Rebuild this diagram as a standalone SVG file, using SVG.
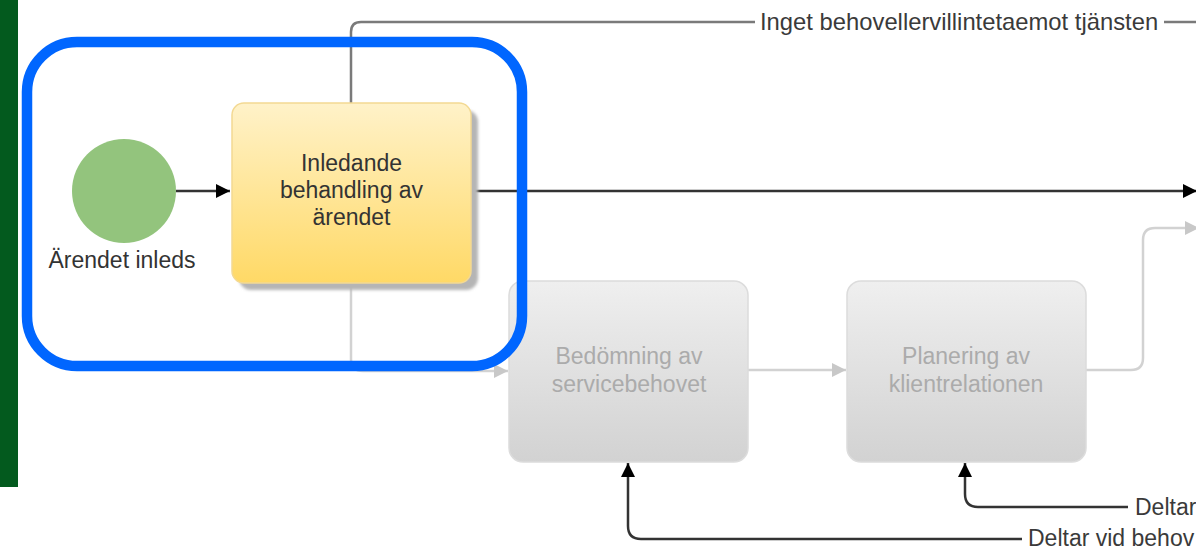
<svg xmlns="http://www.w3.org/2000/svg" width="1196" height="548" viewBox="0 0 1196 548">
  <defs>
    <linearGradient id="gradActive" x1="0" y1="0" x2="0" y2="1">
      <stop offset="0" stop-color="#FFF2C9"/>
      <stop offset="1" stop-color="#FFD966"/>
    </linearGradient>
    <linearGradient id="gradInactive" x1="0" y1="0" x2="0" y2="1">
      <stop offset="0" stop-color="#EFEFEF"/>
      <stop offset="1" stop-color="#D2D2D2"/>
    </linearGradient>
    <filter id="soft" x="-10%" y="-10%" width="120%" height="120%">
      <feGaussianBlur stdDeviation="1.5"/>
    </filter>
    <marker id="arrowDark" viewBox="0 0 10 10" refX="10" refY="5" markerWidth="14" markerHeight="14" markerUnits="userSpaceOnUse" orient="auto">
      <path d="M0,0 L10,5 L0,10 Z" fill="#000"/>
    </marker>
    <marker id="arrowLight" viewBox="0 0 10 10" refX="10" refY="5" markerWidth="14" markerHeight="14" markerUnits="userSpaceOnUse" orient="auto">
      <path d="M0,0 L10,5 L0,10 Z" fill="#C8C8C8"/>
    </marker>
  </defs>
  <style>
    text { font-family: "Liberation Sans", Arial, sans-serif; font-size: 23px; }
    .label { fill: #333333; text-anchor: middle; }
    .faded { fill: #ABABAB; text-anchor: middle; }
    .edgeLabel { fill: #3A3A3A; }
    .wide { font-size: 23.8px; }
    .dark { fill: none; stroke: #333333; stroke-width: 2.5; }
    .mid { fill: none; stroke: #7A7A7A; stroke-width: 2.5; }
    .light { fill: none; stroke: #D2D2D2; stroke-width: 2.5; }
  </style>

  <rect width="1196" height="548" fill="#FFFFFF"/>

  <!-- left margin bar -->
  <rect id="sidebar" x="0" y="0" width="18" height="487" fill="#035A1E"/>

  <!-- connectors -->
  <g id="connectors">
    <path class="dark" d="M176,191 H230" marker-end="url(#arrowDark)"/>
    <path class="dark" d="M471,191 H1197" marker-end="url(#arrowDark)"/>
    <path class="mid" d="M351,103 V32 Q351,22 361,22 H755"/>
    <path class="mid" d="M1164,22 H1196"/>
    <path class="light" d="M351,283 V359 Q351,371 363,371 H508" marker-end="url(#arrowLight)"/>
    <path class="light" d="M748,370 H846" marker-end="url(#arrowLight)"/>
    <path class="light" d="M1086,370 H1131 Q1143,370 1143,358 V240 Q1143,228 1155,228 H1199" marker-end="url(#arrowLight)"/>
    <path class="dark" d="M1022,539 H641 Q628,539 628,526 V463" marker-end="url(#arrowDark)"/>
    <path class="dark" d="M1128,507 H978 Q965,507 965,494 V463" marker-end="url(#arrowDark)"/>
    <text class="edgeLabel wide" x="760" y="30">Inget behovellervillintetaemot tjänsten</text>
    <text class="edgeLabel" x="1135" y="515">Deltar</text>
    <text class="edgeLabel" x="1028" y="546">Deltar vid behov</text>
  </g>

  <!-- start event -->
  <g id="start">
    <circle cx="124" cy="191" r="52" fill="#93C47D"/>
    <text class="label" x="122" y="268">Ärendet inleds</text>
  </g>

  <!-- active task -->
  <g id="task-inledande">
    <rect x="239" y="110" width="239" height="180" rx="12" fill="#B5B5B5" filter="url(#soft)"/>
    <rect x="232" y="103" width="239" height="180" rx="12" fill="url(#gradActive)" stroke="#F3D993" stroke-width="1.5"/>
    <text class="label" x="351.5" y="171">Inledande</text>
    <text class="label" x="351.5" y="198">behandling av</text>
    <text class="label" x="351.5" y="225">ärendet</text>
  </g>

  <!-- inactive tasks -->
  <g id="task-bedomning">
    <rect x="509" y="281" width="239" height="181" rx="14" fill="url(#gradInactive)" stroke="#DCDCDC" stroke-width="1.5"/>
    <text class="faded" x="629" y="364">Bedömning av</text>
    <text class="faded" x="629" y="392">servicebehovet</text>
  </g>
  <g id="task-planering">
    <rect x="847" y="281" width="239" height="181" rx="14" fill="url(#gradInactive)" stroke="#DCDCDC" stroke-width="1.5"/>
    <text class="faded" x="966" y="364">Planering av</text>
    <text class="faded" x="966" y="392">klientrelationen</text>
  </g>

  <!-- highlight frame -->
  <g id="highlight">
    <rect x="27" y="42" width="495" height="324" rx="50" fill="none" stroke="#0066FF" stroke-width="10.5"/>
  </g>
</svg>
